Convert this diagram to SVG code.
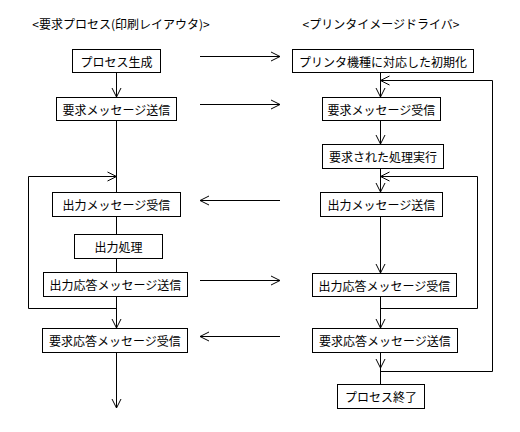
<svg xmlns="http://www.w3.org/2000/svg" width="520" height="432" viewBox="0 0 520 432">
<style>
.box rect{fill:#fff;stroke:#000;stroke-width:1}
text{font-family:"Noto Sans CJK JP","Noto Sans CJK SC",sans-serif;font-size:12px;fill:#000;text-anchor:middle;dominant-baseline:central}
.c path{fill:none;stroke:#000;stroke-width:1}
</style>
<defs>
<marker id="a" viewBox="-10 -6 12 12" refX="0" refY="0" markerWidth="12" markerHeight="12" orient="auto" markerUnits="userSpaceOnUse">
<path d="M-9,-4.5 L0,0 L-9,4.5" fill="none" stroke="#000" stroke-width="1"/>
</marker>
</defs>
<rect width="520" height="432" fill="#fff"/>
<g id="titles">
<text x="121" y="23">&lt;要求プロセス(印刷レイアウタ)&gt;</text>
<text x="381" y="23">&lt;プリンタイメージドライバ&gt;</text>
</g>
<g class="c" id="connectors">
<path d="M116.5,72 V97" marker-end="url(#a)"/>
<path d="M116.5,120 V192"/>
<path d="M116.5,308.5 H28.5 V176.5 H116.5" marker-end="url(#a)"/>
<path d="M116.5,217 V234"/>
<path d="M116.5,258 V272"/>
<path d="M116.5,296 V328" marker-end="url(#a)"/>
<path d="M116.5,352 V408" marker-end="url(#a)"/>
<path d="M200,56.5 H280" marker-end="url(#a)"/>
<path d="M200,104.5 H280" marker-end="url(#a)"/>
<path d="M280,200.5 H200" marker-end="url(#a)"/>
<path d="M200,280.5 H280" marker-end="url(#a)"/>
<path d="M280,336.5 H200" marker-end="url(#a)"/>
<path d="M380.5,72 V97" marker-end="url(#a)"/>
<path d="M380.5,371.5 H492.5 V80.5 H380.5" marker-end="url(#a)"/>
<path d="M380.5,120 V144" marker-end="url(#a)"/>
<path d="M380.5,168 V192" marker-end="url(#a)"/>
<path d="M380.5,308.5 H477.5 V176.5 H380.5" marker-end="url(#a)"/>
<path d="M380.5,216 V273" marker-end="url(#a)"/>
<path d="M380.5,296 V328" marker-end="url(#a)"/>
<path d="M380.5,352 V368" marker-end="url(#a)"/>
<path d="M380.5,368 V384"/>
</g>
<g class="box" id="n1"><rect x="72.5" y="49.5" width="88" height="23"/><text x="116.5" y="61">プロセス生成</text></g>
<g class="box" id="n2"><rect x="56.5" y="97.5" width="120" height="23"/><text x="116.5" y="109">要求メッセージ送信</text></g>
<g class="box" id="n3"><rect x="52.5" y="192.5" width="128" height="24"/><text x="116.5" y="204.5">出力メッセージ受信</text></g>
<g class="box" id="n4"><rect x="74.5" y="234.5" width="88" height="24"/><text x="118.5" y="246.5">出力処理</text></g>
<g class="box" id="n5"><rect x="43.5" y="272.5" width="144" height="24"/><text x="115.5" y="284.5">出力応答メッセージ送信</text></g>
<g class="box" id="n6"><rect x="42.5" y="328.5" width="145" height="24"/><text x="115" y="340.5">要求応答メッセージ受信</text></g>
<g class="box" id="m1"><rect x="292.5" y="49.5" width="181" height="23"/><text x="383" y="61">プリンタ機種に対応した初期化</text></g>
<g class="box" id="m2"><rect x="322.5" y="97.5" width="118" height="23"/><text x="381.5" y="109">要求メッセージ受信</text></g>
<g class="box" id="m3"><rect x="322.5" y="144.5" width="121" height="24"/><text x="383" y="156.5">要求された処理実行</text></g>
<g class="box" id="m4"><rect x="320.5" y="192.5" width="122" height="24"/><text x="381.5" y="204.5">出力メッセージ送信</text></g>
<g class="box" id="m5"><rect x="312.5" y="273.5" width="144" height="23"/><text x="384.5" y="285">出力応答メッセージ受信</text></g>
<g class="box" id="m6"><rect x="312.5" y="328.5" width="145" height="24"/><text x="385" y="340.5">要求応答メッセージ送信</text></g>
<g class="box" id="m7"><rect x="337.5" y="384.5" width="87" height="24"/><text x="381" y="396.5">プロセス終了</text></g>
</svg>
